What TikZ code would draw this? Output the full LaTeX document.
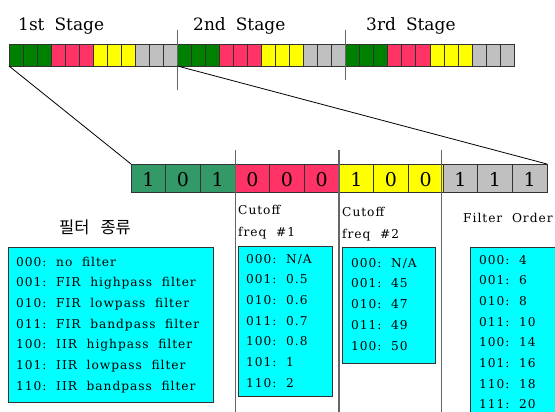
\documentclass[tikz,border=0pt]{standalone}
\usepackage{fontspec}
\setmainfont{DejaVu Serif}
\newfontfamily\boxfont[LetterSpace=8]{DejaVu Serif}
\newfontfamily\kofont{Noto Sans CJK KR}
\definecolor{gA}{HTML}{008000}
\definecolor{gB}{HTML}{339966}
\definecolor{pk}{HTML}{FF3366}
\definecolor{yl}{HTML}{FFFF00}
\definecolor{gy}{HTML}{C0C0C0}
\definecolor{cy}{HTML}{00FFFF}
\definecolor{ln}{HTML}{333333}
\definecolor{vl}{HTML}{666666}
\tikzset{
  topcell/.style={draw=ln,line width=0.8pt},
  botcell/.style={draw=ln,line width=0.8pt},
  divider/.style={draw=vl,line width=1.4pt},
  zoomline/.style={draw=black,line width=0.8pt},
  infobox/.style={draw=ln,fill=cy,line width=1pt},
  stagelbl/.style={anchor=base west,inner sep=0pt,font=\fontsize{17}{20}\selectfont},
  bitlbl/.style={anchor=base,inner sep=0pt,font=\fontsize{19}{21}\selectfont},
  boxtxt/.style={anchor=base west,inner sep=0pt,font=\boxfont\fontsize{12.2}{14}\selectfont},
}
\begin{document}
\begin{tikzpicture}[x=1pt,y=-1pt]
\useasboundingbox (0,0) rectangle (555,412);
\clip (0,0) rectangle (555,412);
% top bar
\foreach \s in {0,1,2}{
  \foreach \k/\c in {0/gA,1/gA,2/gA,3/pk,4/pk,5/pk,6/yl,7/yl,8/yl,9/gy,10/gy,11/gy}{
    \pgfmathsetmacro\xa{9+(\s*12+\k)*14.03}
    \pgfmathsetmacro\xb{\xa+14.03}
    \path[topcell,fill=\c] (\xa,44) rectangle (\xb,66);
  }
}
\coordinate (tl) at (9,66);
\coordinate (tm) at (177.4,66);
\coordinate (d1a) at (177.4,30);
\coordinate (d1b) at (177.4,90);
\coordinate (d2a) at (345.7,30);
\coordinate (d2b) at (345.7,80);
\path[divider] (d1a) -- (d1b);
\path[divider] (d2a) -- (d2b);
\node[stagelbl] (s1) at (18,31) {1st\hspace{10pt}Stage};
\node[stagelbl] (s2) at (193,31) {2nd\hspace{10pt}Stage};
\node[stagelbl] (s3) at (366,31) {3rd\hspace{10pt}Stage};
% bottom bar
\foreach \k/\c/\b in {0/gB/1,1/gB/0,2/gB/1,3/pk/0,4/pk/0,5/pk/0,6/yl/1,7/yl/0,8/yl/0,9/gy/1,10/gy/1,11/gy/1}{
  \pgfmathsetmacro\xa{131+\k*34.67}
  \pgfmathsetmacro\xb{\xa+34.67}
  \path[botcell,fill=\c] (\xa,164) rectangle (\xb,192);
  \node[bitlbl] at ({(\xa+\xb)/2},186) {\b};
}
\coordinate (bl) at (131,164);
\coordinate (br) at (547,164);
\path[zoomline] (tl) -- (bl);
\path[zoomline] (tm) -- (br);
\coordinate (v1a) at (235.7,150);
\coordinate (v1b) at (235.7,412);
\coordinate (v2a) at (339,150);
\coordinate (v2b) at (339,412);
\coordinate (v3a) at (441.3,150);
\coordinate (v3b) at (441.3,412);
\path[divider] (v1a) -- (v1b);
\path[divider] (v2a) -- (v2b);
\path[divider] (v3a) -- (v3b);
% labels
\node[anchor=base west,inner sep=0pt,font=\kofont\fontsize{16.5}{18}\selectfont] (kl) at (59,233) {필터\hspace{11pt}종류};
\node[boxtxt] (c1a) at (238,214) {Cutoff};
\node[boxtxt] (c1b) at (238,236) {freq\ \ \#1};
\node[boxtxt] (c2a) at (342,216) {Cutoff};
\node[boxtxt] (c2b) at (342,238) {freq\ \ \#2};
\node[boxtxt] (fo) at (463,222) {Filter\ \ Order};
% box 1
\path[infobox] (8,247) rectangle (213,402);
\foreach \t [count=\i from 0] in {000:\ \ no\ \ filter,001:\ \ FIR\ \ highpass\ \ filter,010:\ \ FIR\ \ lowpass\ \ filter,011:\ \ FIR\ \ bandpass\ \ filter,100:\ \ IIR\ \ highpass\ \ filter,101:\ \ IIR\ \ lowpass\ \ filter,110:\ \ IIR\ \ bandpass\ \ filter}{
  \node[boxtxt] at (16,{266+\i*20.7}) {\t};
}
% box 2
\path[infobox] (238,246) rectangle (332,396);
\foreach \t [count=\i from 0] in {000:\ \ N/A,001:\ \ 0.5,010:\ \ 0.6,011:\ \ 0.7,100:\ \ 0.8,101:\ \ 1,110:\ \ 2}{
  \node[boxtxt] at (246,{263+\i*20.7}) {\t};
}
% box 3
\path[infobox] (342,247) rectangle (435,363);
\foreach \t [count=\i from 0] in {000:\ \ N/A,001:\ \ 45,010:\ \ 47,011:\ \ 49,100:\ \ 50}{
  \node[boxtxt] at (351,{267+\i*20.9}) {\t};
}
% box 4
\path[infobox] (470,247) rectangle (570,430);
\foreach \t [count=\i from 0] in {000:\ \ 4,001:\ \ 6,010:\ \ 8,011:\ \ 10,100:\ \ 14,101:\ \ 16,110:\ \ 18,111:\ \ 20}{
  \node[boxtxt] at (479,{264+\i*20.7}) {\t};
}
\end{tikzpicture}
\end{document}
